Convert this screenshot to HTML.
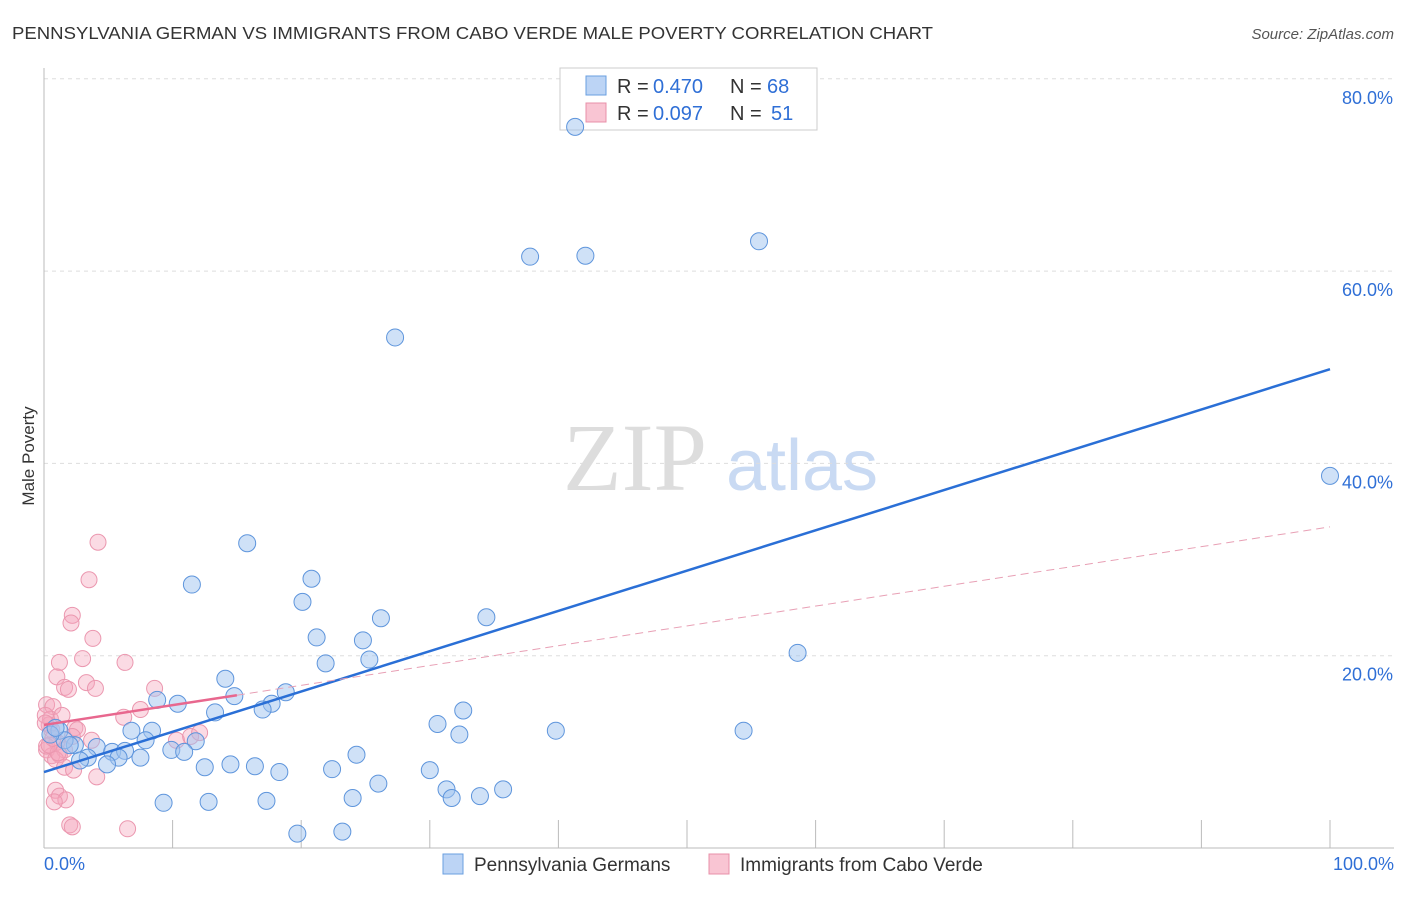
<!DOCTYPE html>
<html><head><meta charset="utf-8"><style>
body{margin:0;background:#fff;font-family:"Liberation Sans",sans-serif}
</style></head><body>
<svg id="c" width="1406" height="892" xmlns="http://www.w3.org/2000/svg">
<text x="12" y="39" font-size="17.5" fill="#333" textLength="921" lengthAdjust="spacingAndGlyphs">PENNSYLVANIA GERMAN VS IMMIGRANTS FROM CABO VERDE MALE POVERTY CORRELATION CHART</text>
<text x="1394" y="39" font-size="15" fill="#555" font-style="italic" text-anchor="end">Source: ZipAtlas.com</text>
<text x="34" y="456" font-size="17" fill="#333" transform="rotate(-90 34 456)" text-anchor="middle">Male Poverty</text>
<g><text x="635" y="490" font-size="96" font-family="Liberation Serif,serif" fill="#ddd" text-anchor="middle">ZIP</text><text x="802" y="490" font-size="72" fill="#c9daf3" text-anchor="middle">atlas</text></g>
<g id="grid"></g><g id="axes"></g>
<g>
<rect x="560" y="68" width="257" height="62" fill="#fff" stroke="#ccc"/>
<rect x="586" y="76" width="20" height="19" fill="#bcd4f5" stroke="#6a9fe0"/>
<rect x="586" y="103" width="20" height="19" fill="#f9c5d3" stroke="#e890a8"/>
<text x="617" y="93" font-size="20" fill="#333">R =</text><text x="653" y="93" font-size="20" fill="#2f6fd6">0.470</text>
<text x="730" y="93" font-size="20" fill="#333">N =</text><text x="767" y="93" font-size="20" fill="#2f6fd6">68</text>
<text x="617" y="120" font-size="20" fill="#333">R =</text><text x="653" y="120" font-size="20" fill="#2f6fd6">0.097</text>
<text x="730" y="120" font-size="20" fill="#333">N =</text><text x="771" y="120" font-size="20" fill="#2f6fd6">51</text>
</g>
<g id="pts"></g><g id="lines"></g>
<g>
<rect x="443" y="854" width="20" height="20" fill="#bcd4f5" stroke="#6a9fe0"/>
<text x="474" y="871" font-size="19" fill="#333">Pennsylvania Germans</text>
<rect x="709" y="854" width="20" height="20" fill="#f9c5d3" stroke="#e890a8"/>
<text x="740" y="871" font-size="19" fill="#333">Immigrants from Cabo Verde</text>
</g>
<text x="44" y="870" font-size="18" fill="#2f6fd6">0.0%</text>
<text x="1394" y="870" font-size="18" fill="#2f6fd6" text-anchor="end">100.0%</text>
</svg>
<script>
const yTicks=[20,40,60,80];
const yTickLabels=["20.0%","40.0%","60.0%","80.0%"];
const blueX=[41.3,37.8,42.1,55.6,27.3,100,58.6,15.8,11.5,20.8,20.1,34.4,26.2,21.2,24.8,21.9,25.3,14.1,14.8,18.8,8.8,10.4,17.7,17.0,13.3,30.6,32.6,32.3,39.8,54.4,6.8,8.4,11.8,7.9,2.4,4.1,5.3,6.3,3.4,5.8,7.5,9.9,10.9,24.3,1.2,1.6,4.9,12.5,14.5,16.4,18.3,22.4,30.0,26.0,31.3,31.7,33.9,35.7,24.0,9.3,12.8,17.3,19.7,23.2,0.5,0.9,2.8,2.0];
const blueY=[75.0,61.5,61.6,63.1,53.1,38.7,20.3,31.7,27.4,28.0,25.6,24.0,23.9,21.9,21.6,19.2,19.6,17.6,15.8,16.2,15.4,15.0,15.0,14.4,14.1,12.9,14.3,11.8,12.2,12.2,12.2,12.2,11.1,11.2,10.7,10.5,10.0,10.1,9.4,9.4,9.4,10.2,10.0,9.7,12.2,11.2,8.7,8.4,8.7,8.5,7.9,8.2,8.1,6.7,6.1,5.2,5.4,6.1,5.2,4.7,4.8,4.9,1.5,1.7,11.8,12.5,9.1,10.7];
const pinkX=[4.2,3.5,2.2,2.1,3.8,3.0,1.2,6.3,1.0,1.6,1.9,3.3,4.0,8.6,0.2,0.7,0.5,6.2,7.5,0.4,2.4,2.6,0.2,0.6,1.2,1.0,1.6,10.3,11.4,12.1,3.7,0.9,1.6,2.3,4.1,0.9,1.2,1.7,0.8,2.0,2.2,6.5,0.2,0.6,1.4,0.1,1.1,0.4,2.2,0.1,0.7];
const pinkY=[31.8,27.9,24.2,23.4,21.8,19.7,19.3,19.3,17.8,16.7,16.5,17.2,16.6,16.6,14.9,14.7,13.4,13.6,14.4,12.8,12.5,12.3,10.2,9.6,9.7,11.0,10.2,11.2,11.6,12.0,11.2,9.2,8.4,8.1,7.4,6.0,5.4,5.0,4.8,2.4,2.2,2.0,10.6,12.3,13.8,13.8,9.9,10.7,11.6,13.0,11.4];
const blueFit=[7.9,49.8];
const pinkFit=[12.8,33.4];
const pinkSolidEnd=15;
const NS="http://www.w3.org/2000/svg";
const X=v=>44+v*12.86, Y=v=>848-v*9.615;
function mk(t,a,p){const e=document.createElementNS(NS,t);for(const k in a)e.setAttribute(k,a[k]);document.getElementById(p).appendChild(e);return e;}
yTicks.forEach((t,i)=>{
 const g=mk('line',{x1:44,x2:1394,y1:Y(t),y2:Y(t),stroke:'#ddd','stroke-dasharray':'4,4'},'grid');
 
 
 const l=mk('text',{x:1393,y:Y(t)+25,'font-size':18,fill:'#2f6fd6','text-anchor':'end'},'grid');l.textContent=yTickLabels[i];
 
 
});
mk('line',{x1:44,x2:44,y1:68,y2:848,stroke:'#bbb'},'axes');
mk('line',{x1:44,x2:1394,y1:848,y2:848,stroke:'#bbb'},'axes');
for(let i=0;i<=10;i++){const t=mk('line',{x1:X(i*10),x2:X(i*10),y1:820,y2:848,stroke:'#bbb'},'axes');
 
 }
pinkX.forEach((x,i)=>{const c=mk('circle',{cx:X(x),cy:Y(pinkY[i]),r:8,fill:'rgba(245,165,188,0.4)',stroke:'#eb97af','stroke-width':1},'pts');
 
 });
blueX.forEach((x,i)=>{const c=mk('circle',{cx:X(x),cy:Y(blueY[i]),r:8.5,fill:'rgba(160,196,240,0.5)',stroke:'#5e95dc','stroke-width':1},'pts');
 
 });
const bl=mk('line',{x1:X(0),y1:Y(blueFit[0]),x2:X(100),y2:Y(blueFit[1]),stroke:'#2a6fd6','stroke-width':2.5},'lines');


const pf=x=>pinkFit[0]+(pinkFit[1]-pinkFit[0])*x/100;
const pl=mk('line',{x1:X(0),y1:Y(pf(0)),x2:X(pinkSolidEnd),y2:Y(pf(pinkSolidEnd)),stroke:'#e8678e','stroke-width':2.5},'lines');


const pd=mk('line',{x1:X(pinkSolidEnd),y1:Y(pf(pinkSolidEnd)),x2:X(100),y2:Y(pf(100)),stroke:'#e8a0b5','stroke-width':1,'stroke-dasharray':'8,5'},'lines');


</script>
</body></html>
